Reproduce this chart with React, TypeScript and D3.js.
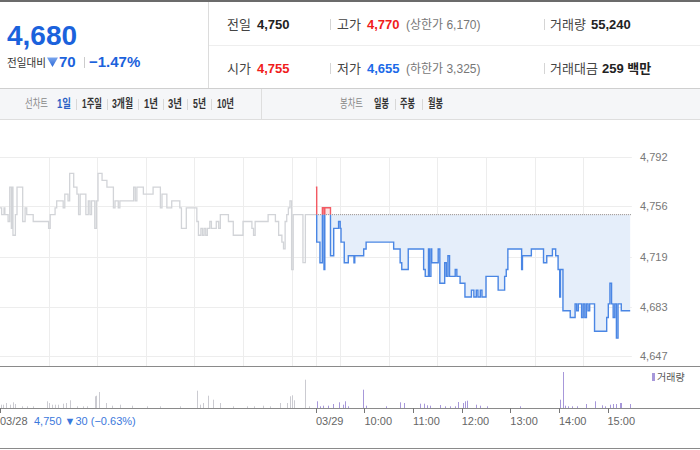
import React from 'react';
import * as d3 from 'd3';

// ---------- data ----------
const prevClose = 4750;
// 03/28 (minutes after 09:00)
const prevMinutes = [0, 2, 5, 6, 10, 12, 14, 15, 16, 19, 21, 28, 31, 33, 41, 60, 62, 68, 70, 78, 80, 84, 86, 91, 95, 97, 99, 106, 109, 111, 113, 117, 119, 121, 126, 132, 140, 142, 146, 148, 165, 167, 169, 177, 189, 198, 200, 206, 212, 222, 224, 230, 243, 245, 248, 250, 252, 254, 256, 259, 261, 267, 270, 272, 282, 288, 300, 311, 313, 315, 331, 340, 344, 348, 350, 352, 354, 356, 358, 360, 362, 374, 377, 390];
const prevPrices = [4755, 4750, 4755, 4750, 4745, 4770, 4740, 4770, 4735, 4750, 4770, 4745, 4755, 4750, 4745, 4740, 4750, 4755, 4760, 4755, 4765, 4760, 4780, 4770, 4765, 4750, 4765, 4750, 4760, 4750, 4760, 4740, 4760, 4780, 4775, 4770, 4755, 4760, 4755, 4760, 4770, 4760, 4770, 4765, 4770, 4755, 4765, 4755, 4760, 4755, 4740, 4755, 4745, 4735, 4740, 4735, 4740, 4735, 4740, 4745, 4740, 4745, 4740, 4750, 4745, 4735, 4745, 4740, 4735, 4745, 4750, 4745, 4735, 4730, 4725, 4745, 4750, 4755, 4760, 4710, 4750, 4715, 4750, 4750];
// 03/29 (minutes after 09:00)
const todayMinutes = [0, 1, 5, 8, 10, 11, 18, 22, 28, 30, 31, 35, 40, 47, 48, 59, 62, 96, 104, 106, 114, 133, 135, 139, 140, 142, 143, 151, 153, 159, 161, 163, 165, 172, 174, 178, 184, 192, 195, 198, 200, 203, 205, 210, 225, 233, 235, 237, 254, 255, 266, 281, 285, 292, 296, 299, 301, 302, 305, 314, 320, 322, 324, 328, 330, 332, 334, 336, 338, 344, 359, 361, 363, 365, 367, 369, 371, 373, 377, 388];
const todayPrices = [4770, 4730, 4715, 4755, 4710, 4755, 4720, 4740, 4745, 4740, 4730, 4715, 4720, 4715, 4720, 4725, 4730, 4725, 4715, 4710, 4725, 4710, 4705, 4725, 4705, 4725, 4715, 4725, 4700, 4715, 4705, 4720, 4705, 4710, 4705, 4700, 4690, 4695, 4690, 4695, 4690, 4695, 4690, 4705, 4695, 4705, 4710, 4725, 4710, 4720, 4725, 4715, 4720, 4725, 4720, 4710, 4690, 4710, 4680, 4675, 4685, 4680, 4685, 4675, 4685, 4675, 4685, 4680, 4685, 4665, 4675, 4685, 4700, 4685, 4675, 4685, 4660, 4685, 4680, 4680];

const prevVolMinutes = [1, 4, 7, 12, 16, 19, 27, 33, 41, 58, 60, 64, 68, 72, 78, 82, 86, 95, 103, 107, 117, 119, 122, 131, 138, 148, 163, 181, 198, 222, 243, 247, 251, 257, 263, 272, 288, 305, 313, 325, 333, 346, 354, 358, 360, 363, 377, 381];
const prevVolumes = [330, 330, 500, 330, 570, 400, 170, 170, 170, 670, 500, 330, 330, 330, 430, 500, 770, 170, 170, 170, 1170, 1230, 1600, 500, 230, 330, 230, 170, 170, 170, 1730, 330, 500, 1230, 830, 500, 170, 170, 170, 230, 170, 500, 500, 1170, 1270, 770, 2830, 170];
const todayVolMinutes = [1, 5, 9, 15, 21, 28, 34, 36, 40, 58, 62, 87, 104, 109, 128, 134, 137, 141, 153, 159, 165, 172, 176, 181, 184, 186, 198, 202, 211, 252, 301, 305, 307, 311, 316, 322, 334, 344, 353, 357, 363, 367, 371, 375, 377, 388];
const todayVolumes = [670, 170, 230, 230, 400, 570, 330, 670, 170, 1830, 230, 170, 570, 500, 430, 430, 270, 230, 300, 170, 170, 170, 600, 500, 670, 730, 330, 230, 170, 170, 830, 3600, 230, 170, 170, 170, 400, 670, 270, 170, 330, 400, 400, 500, 500, 400];

const priceTicks = [4647, 4683, 4719, 4756, 4792];
const hourLabels = ['10:00', '11:00', '12:00', '13:00', '14:00', '15:00'];
const periodTabs = ['1일', '1주일', '3개월', '1년', '3년', '5년', '10년'];
const candleTabs = ['일봉', '주봉', '월봉'];

// ---------- layout ----------
const W = 700, H = 450;
const FONT = "'Liberation Sans', 'Noto Sans CJK KR', sans-serif";
const KFONT = "'Noto Sans CJK KR', 'Liberation Sans', sans-serif";
const PLOT_TOP = 157, PANE_BOTTOM = 366, VOL_BASE = 408;

const x = d3.scaleLinear().domain([0, 780]).range([0, 631.8]);
const y = d3.scaleLinear().domain([4647, 4792]).range([356, 157]);
const yv = d3.scaleLinear().domain([0, 4000]).range([VOL_BASE, 368]);

type P = [number, number];
const prevData: P[] = prevMinutes.map((m, i) => [m, prevPrices[i]]);
const todayData: P[] = todayMinutes.map((m, i) => [390 + m, todayPrices[i]]);

const line = d3.line<P>().x(d => x(d[0])).y(d => y(d[1])).curve(d3.curveStepAfter);
const area = d3.area<P>().x(d => x(d[0])).y0(y(prevClose)).y1(d => y(d[1])).curve(d3.curveStepAfter);

const fmt = d3.format(',');

export default function App() {
  const yBase = y(prevClose);
  const xEnd = x(780);
  const tabX = [57, 82, 112, 144, 168, 193, 217];
  const tabW = [14, 20, 21, 14, 14, 13, 17];
  const sepX = [76, 107, 138, 163, 187, 211];
  const candX = [374, 400, 428];
  return (
    <svg width={W} height={H} style={{ position: 'absolute', left: 0, top: 0, background: '#fff' }} fontFamily={FONT}>
      <defs>
        <clipPath id="up"><rect x={0} y={0} width={W} height={yBase} /></clipPath>
        <clipPath id="down"><rect x={0} y={yBase} width={W} height={PANE_BOTTOM - yBase} /></clipPath>
        <linearGradient id="tri" x1="0" y1="0" x2="0" y2="1">
          <stop offset="0" stopColor="#7aa6ee" />
          <stop offset="1" stopColor="#2a67d6" />
        </linearGradient>
      </defs>

      {/* ---------- header ---------- */}
      <rect x={0} y={0} width={W} height={2} fill="#6b6b6b" />
      <line x1={208.5} x2={208.5} y1={2} y2={88} stroke="#dcdcdc" />
      <line x1={209} x2={W} y1={45.5} y2={45.5} stroke="#eeeeee" />
      <line x1={0} x2={W} y1={88.5} y2={88.5} stroke="#cfcfcf" />

      <text x={7} y={45} fontSize={28} fontWeight="bold" fill="#1b62dc">4,680</text>
      <text x={7} y={67} fontSize={11} fill="#333" fontFamily={KFONT} textLength={39} lengthAdjust="spacingAndGlyphs">전일대비</text>
      <path d="M47,57.5 L58,57.5 L52.5,67 Z" fill="url(#tri)" />
      <text x={59} y={67} fontSize={15} fontWeight="bold" fill="#1b62dc">70</text>
      <line x1={84.5} x2={84.5} y1={57} y2={68} stroke="#ccc" />
      <text x={89} y={67} fontSize={15} fontWeight="bold" fill="#1b62dc">−1.47%</text>

      {[
        { lx: 227, ly: 29, label: '전일', vx: 257, val: '4,750', col: '#222' },
        { lx: 337, ly: 29, label: '고가', vx: 367, val: '4,770', col: '#f01c1c', extra: '(상한가 6,170)' },
        { lx: 550, ly: 29, label: '거래량', vx: 591, val: '55,240', col: '#222' },
        { lx: 227, ly: 73, label: '시가', vx: 257, val: '4,755', col: '#f01c1c' },
        { lx: 337, ly: 73, label: '저가', vx: 367, val: '4,655', col: '#1b6ae8', extra: '(하한가 3,325)' },
        { lx: 550, ly: 73, label: '거래대금', vx: 602, val: '259 백만', col: '#222' },
      ].map((d, i) => (
        <g key={i}>
          <text x={d.lx} y={d.ly} fontSize={13} fill="#444" fontFamily={KFONT}>{d.label}</text>
          <text x={d.vx} y={d.ly} fontSize={13} fontWeight="bold" fill={d.col}>{d.val}</text>
          {d.extra && <text x={406} y={d.ly} fontSize={12} fill="#777">{d.extra}</text>}
        </g>
      ))}
      {[19, 63].map(t => (
        <g key={t}>
          <line x1={330.5} x2={330.5} y1={t} y2={t + 11} stroke="#d5d5d5" />
          <line x1={544.5} x2={544.5} y1={t} y2={t + 11} stroke="#d5d5d5" />
        </g>
      ))}

      {/* ---------- tab bar ---------- */}
      <rect x={0} y={89} width={W} height={31} fill="#f5f6f8" />
      <line x1={0} x2={W} y1={119.5} y2={119.5} stroke="#dedede" />
      <line x1={261.5} x2={261.5} y1={89} y2={119} stroke="#dedede" />
      <text x={25} y={108} fontSize={12} fill="#888" fontFamily={KFONT} textLength={23} lengthAdjust="spacingAndGlyphs">선차트</text>
      {periodTabs.map((t, i) => (
        <text key={t} x={tabX[i]} y={108} fontSize={12} fontWeight="bold" fill={i === 0 ? '#2b5fc4' : '#333'}
          textLength={tabW[i]} lengthAdjust="spacingAndGlyphs">{t}</text>
      ))}
      {sepX.map(s => <line key={s} x1={s + 0.5} x2={s + 0.5} y1={99} y2={110} stroke="#d8d8d8" />)}
      <text x={340} y={108} fontSize={12} fill="#888" fontFamily={KFONT} textLength={23} lengthAdjust="spacingAndGlyphs">봉차트</text>
      {candleTabs.map((t, i) => (
        <text key={t} x={candX[i]} y={108} fontSize={12} fontWeight="bold" fill="#333" textLength={15} lengthAdjust="spacingAndGlyphs">{t}</text>
      ))}
      {[395, 422].map(s => <line key={s} x1={s + 0.5} x2={s + 0.5} y1={99} y2={110} stroke="#d8d8d8" />)}

      {/* ---------- price pane ---------- */}
      {priceTicks.map(t => (
        <g key={t}>
          <line x1={0} x2={xEnd} y1={Math.round(y(t)) + 0.5} y2={Math.round(y(t)) + 0.5} stroke="#ededed" />
          <text x={640} y={y(t)} dominantBaseline="central" fontSize={11} fill="#777">{fmt(t)}</text>
        </g>
      ))}
      {d3.range(60, 780, 60).concat([390]).map(m => (
        <line key={m} x1={Math.round(x(m)) + 0.5} x2={Math.round(x(m)) + 0.5} y1={PLOT_TOP} y2={PANE_BOTTOM} stroke="#ededed" />
      ))}

      <path d={line(prevData) || ''} fill="none" stroke="#d2d4d8" strokeWidth={1.3} />
      <path d={area(todayData) || ''} fill="#fde4e4" clipPath="url(#up)" />
      <path d={area(todayData) || ''} fill="#e5eefa" clipPath="url(#down)" />
      <line x1={x(390)} x2={xEnd} y1={yBase} y2={yBase} stroke="#888" strokeDasharray="1,1" />
      <path d={line(todayData) || ''} fill="none" stroke="#f25a63" strokeWidth={1.4} clipPath="url(#up)" />
      <path d={line(todayData) || ''} fill="none" stroke="#4a86e4" strokeWidth={1.4} clipPath="url(#down)" />

      <line x1={0} x2={W} y1={PANE_BOTTOM + 0.5} y2={PANE_BOTTOM + 0.5} stroke="#8a8a8a" />

      {/* ---------- volume pane ---------- */}
      {prevVolMinutes.map((m, i) => (
        <line key={'p' + i} x1={Math.round(x(m)) + 0.5} x2={Math.round(x(m)) + 0.5} y1={VOL_BASE} y2={yv(prevVolumes[i])} stroke="#cbcbd1" />
      ))}
      {todayVolMinutes.map((m, i) => (
        <line key={'t' + i} x1={Math.round(x(390 + m)) + 0.5} x2={Math.round(x(390 + m)) + 0.5} y1={VOL_BASE} y2={yv(todayVolumes[i])} stroke="#a798da" />
      ))}
      <rect x={652} y={373} width={3} height={8} fill="#a798da" />
      <text x={657} y={381} fontSize={10} fill="#555" fontFamily={KFONT}>거래량</text>

      <line x1={0} x2={W} y1={VOL_BASE + 0.5} y2={VOL_BASE + 0.5} stroke="#8a8a8a" />
      {[0, 390].concat(d3.range(450, 780, 60)).map(m => (
        <line key={m} x1={Math.round(x(m)) + 0.5} x2={Math.round(x(m)) + 0.5} y1={VOL_BASE} y2={VOL_BASE + 5} stroke="#777" />
      ))}
      <text x={0} y={425} fontSize={11} fill="#666">03/28</text>
      <text x={34} y={425} fontSize={11} fill="#3b78dc">4,750 ▼30 (−0.63%)</text>
      <text x={x(390)} y={425} fontSize={11} fill="#666">03/29</text>
      {hourLabels.map((h, i) => (
        <text key={h} x={x(450 + i * 60)} y={425} fontSize={11} fill="#666">{h}</text>
      ))}
      <line x1={0} x2={W} y1={448.5} y2={448.5} stroke="#8a8a8a" />
    </svg>
  );
}
